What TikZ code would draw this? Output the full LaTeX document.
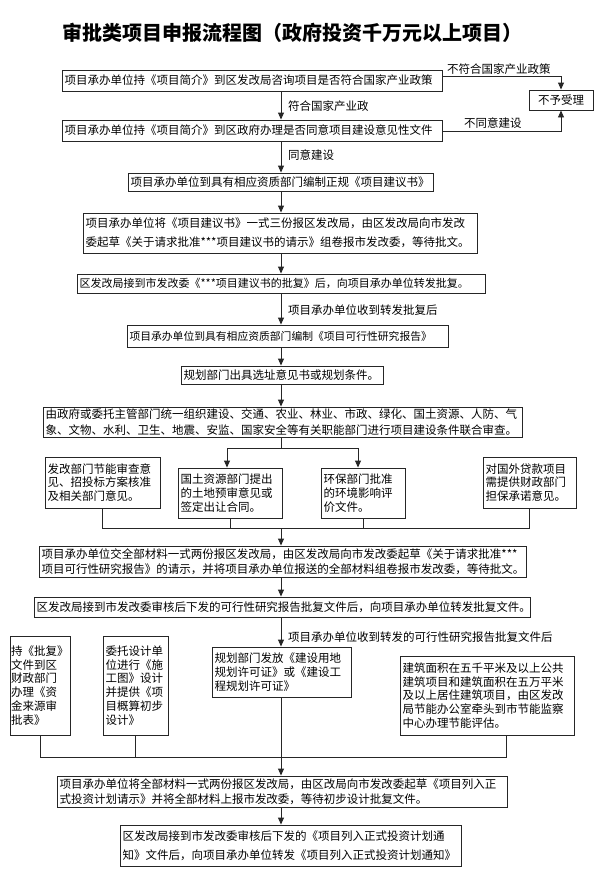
\documentclass[tikz,border=0pt]{standalone}
\usepackage{fontspec}
\setmainfont{Noto Sans CJK SC}
\usetikzlibrary{arrows.meta}
\newcommand\bx[7][]{%
  \pgfmathsetmacro\bxW{#5-#3}\pgfmathsetmacro\bxH{#6-#4}\pgfmathsetmacro\bxT{#5-#3-5}%
  \node[box,minimum width=\bxW pt,minimum height=\bxH pt,text width=\bxT pt,#1] (#2) at ({(#3+#5)/2},{(#4+#6)/2}) {#7};}
\begin{document}
\begin{tikzpicture}[x=1pt,y=-1pt,
  box/.style={draw=black!85, line width=0.9pt, inner xsep=2.5pt, inner ysep=0pt, align=left, font=\fontsize{11.5}{15.5}\selectfont},
  tight/.style={font=\fontsize{11.5}{13.8}\selectfont},
  lbl/.style={inner sep=0pt, anchor=west, font=\fontsize{11.5}{14}\selectfont},
  arr/.style={line width=0.9pt, draw=black!85, -{Triangle[length=7pt,width=6pt]}},
  ln/.style={line width=0.9pt, draw=black!85}]
\useasboundingbox (0,0) rectangle (600,883);

\node[font=\fontsize{20}{24}\selectfont\bfseries, inner sep=0pt] (title) at (292,33) {审批类项目申报流程图（政府投资千万元以上项目）};

\coordinate (ax) at (281,0);

\bx{n1}{62}{70}{442}{91}{项目承办单位持《项目简介》到区发改局咨询项目是否符合国家产业政策}
\bx[align=center]{rej}{529}{90}{593}{110}{不予受理}
\bx{n2}{62}{120}{442}{141}{项目承办单位持《项目简介》到区政府办理是否同意项目建设意见性文件}
\bx{n3}{128}{173}{433}{191}{项目承办单位到具有相应资质部门编制正规《项目建议书》}
\bx[font=\fontsize{11.5}{19}\selectfont]{n4}{83}{213}{477}{253}{项目承办单位将《项目建议书》一式三份报区发改局，由区发改局向市发改\\委起草《关于请求批准***项目建议书的请示》组卷报市发改委，等待批文。}
\bx[font=\fontsize{11}{15}\selectfont]{n5}{77}{274}{485}{293}{区发改局接到市发改委《***项目建议书的批复》后，向项目承办单位转发批复。}
\bx[font=\fontsize{10.8}{15}\selectfont]{n6}{127}{325}{448}{347}{项目承办单位到具有相应资质部门编制《项目可行性研究报告》}
\bx{n7}{181}{366}{383}{384}{规划部门出具选址意见书或规划条件。}
\bx{n8}{43}{407}{522}{437}{由政府或委托主管部门统一组织建设、交通、农业、林业、市政、绿化、国土资源、人防、气\\象、文物、水利、卫生、地震、安监、国家安全等有关职能部门进行项目建设条件联合审查。}

\bx[tight]{A}{45}{457}{160}{508}{发改部门节能审查意\\见、招投标方案核准\\及相关部门意见。}
\bx[tight]{B}{178}{468}{282}{518}{国土资源部门提出\\的土地预审意见或\\签定出让合同。}
\bx[tight]{C}{321}{468}{405}{518}{环保部门批准\\的环境影响评\\价文件。}
\bx[tight]{D}{483}{457}{576}{508}{对国外贷款项目\\需提供财政部门\\担保承诺意见。}

\bx{n9}{39}{546}{526}{577}{项目承办单位交全部材料一式两份报区发改局，由区发改局向市发改委起草《关于请求批准***\\项目可行性研究报告》的请示，并将项目承办单位报送的全部材料组卷报市发改委，等待批文。}
\bx{n10}{34}{597}{530}{617}{区发改局接到市发改委审核后下发的可行性研究报告批复文件后，向项目承办单位转发批复文件。}

\bx[tight,inner xsep=1pt,text width=58pt]{F1}{10}{636}{70}{735}{持《批复》\\文件到区\\财政部门\\办理《资\\金来源审\\批表》}
\bx[tight]{F2}{103}{636}{168}{735}{委托设计单\\位进行《施\\工图》设计\\并提供《项\\目概算初步\\设计》}
\bx[tight]{F3}{212}{647}{351}{697}{规划部门发放《建设用地\\规划许可证》或《建设工\\程规划许可证》}
\bx[tight]{F4}{400}{656}{574}{735}{建筑面积在五千平米及以上公共\\建筑项目和建筑面积在五万平米\\及以上居住建筑项目，由区发改\\局节能办公室牵头到市节能监察\\中心办理节能评估。}

\bx{n11}{57}{776}{507}{807}{项目承办单位将全部材料一式两份报区发改局，由区改局向市发改委起草《项目列入正\\式投资计划请示》并将全部材料上报市发改委，等待初步设计批复文件。}
\bx[font=\fontsize{11.5}{19}\selectfont]{n12}{120}{825}{461}{866}{区发改局接到市发改委审核后下发的《项目列入正式投资计划通\\知》文件后，向项目承办单位转发《项目列入正式投资计划通知》}

% labels
\node[lbl, anchor=south west] (l1) at (447,75) {不符合国家产业政策};
\node[lbl, anchor=south west] (l2) at (464,129) {不同意建设};
\node[lbl] (l3) at (288,106) {符合国家产业政};
\node[lbl] (l4) at (288,155) {同意建设};
\node[lbl] (l5) at (288,310) {项目承办单位收到转发批复后};
\node[lbl] (l6) at (288,637) {项目承办单位收到转发的可行性研究报告批复文件后};

% rejection branch
\coordinate (r1) at (0,76);
\coordinate (r2) at (0,131);
\draw[arr] (n1.east |- r1) -| (rej.north);
\draw[arr] (n2.east |- r2) -| (rej.south);

% main axis
\draw[arr] (n1.south -| ax) -- (n2.north -| ax);
\draw[arr] (n2.south -| ax) -- (n3.north -| ax);
\draw[arr] (n3.south -| ax) -- (n4.north -| ax);
\draw[arr] (n4.south -| ax) -- (n5.north -| ax);
\draw[arr] (n5.south -| ax) -- (n6.north -| ax);
\draw[arr] (n6.south -| ax) -- (n7.north -| ax);
\draw[arr] (n7.south -| ax) -- (n8.north -| ax);

% split to B, C
\coordinate (jy) at (0,448);
\coordinate (jL) at (227,448);
\coordinate (jR) at (358,448);
\draw[ln] (n8.south -| ax) -- (ax |- jy);
\draw[ln] (jL) -- (jR);
\draw[arr] (jL) -- (B.north -| jL);
\draw[arr] (jR) -- (C.north -| jR);

% merge A-D
\coordinate (by) at (0,528);
\draw[ln] (A.south) -- (A.south |- by) -- (D.south |- by) -- (D.south);
\draw[ln] (B.south) -- (B.south |- by);
\draw[ln] (C.south) -- (C.south |- by);
\draw[arr] (ax |- by) -- (n9.north -| ax);

\draw[arr] (n9.south -| ax) -- (n10.north -| ax);
\draw[arr] (n10.south -| ax) -- (F3.north -| ax);

% merge F1-F4
\coordinate (ky) at (0,757);
\coordinate (f4x) at (506,0);
\draw[ln] (F1.south) -- (F1.south |- ky) -- (f4x |- ky) -- (F4.south -| f4x);
\draw[ln] (F2.south) -- (F2.south |- ky);
\draw[ln] (F3.south -| ax) -- (ax |- ky);
\draw[arr] (ax |- ky) -- (n11.north -| ax);
\draw[arr] (n11.south -| ax) -- (n12.north -| ax);
\end{tikzpicture}
\end{document}
